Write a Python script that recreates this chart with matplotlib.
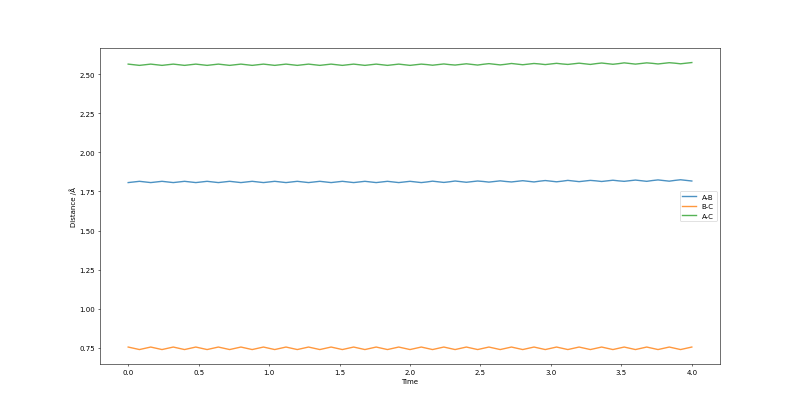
import numpy as np
import matplotlib
matplotlib.use("Agg")
import matplotlib.pyplot as plt

# sampled time grid (101 samples, 0 -> 4)
time = np.linspace(0, 4, 101)

# A-B distance
dist_ab = [
    1.807, 1.811, 1.815, 1.811, 1.807, 1.811, 1.815, 1.811,
    1.807, 1.811, 1.815, 1.811, 1.807, 1.811, 1.815, 1.811,
    1.807, 1.811, 1.815, 1.811, 1.807, 1.811, 1.815, 1.811,
    1.807, 1.811, 1.815, 1.811, 1.807, 1.811, 1.815, 1.811,
    1.807, 1.811, 1.815, 1.811, 1.807, 1.811, 1.815, 1.811,
    1.807, 1.811, 1.815, 1.811, 1.807, 1.811, 1.815, 1.811,
    1.807, 1.811, 1.815, 1.811, 1.807, 1.811, 1.816, 1.812,
    1.808, 1.812, 1.817, 1.813, 1.809, 1.813, 1.817, 1.814,
    1.810, 1.814, 1.818, 1.814, 1.811, 1.815, 1.819, 1.815,
    1.811, 1.816, 1.820, 1.816, 1.812, 1.816, 1.821, 1.817,
    1.813, 1.817, 1.821, 1.818, 1.814, 1.818, 1.822, 1.818,
    1.815, 1.819, 1.823, 1.819, 1.815, 1.820, 1.824, 1.820,
    1.816, 1.821, 1.825, 1.821, 1.817,
]

# B-C distance
dist_bc = [
    0.756, 0.748, 0.740, 0.748, 0.756, 0.748, 0.740, 0.748,
    0.756, 0.748, 0.740, 0.748, 0.756, 0.748, 0.740, 0.748,
    0.756, 0.748, 0.740, 0.748, 0.756, 0.748, 0.740, 0.748,
    0.756, 0.748, 0.740, 0.748, 0.756, 0.748, 0.740, 0.748,
    0.756, 0.748, 0.740, 0.748, 0.756, 0.748, 0.740, 0.748,
    0.756, 0.748, 0.740, 0.748, 0.756, 0.748, 0.740, 0.748,
    0.756, 0.748, 0.740, 0.748, 0.756, 0.748, 0.740, 0.748,
    0.756, 0.748, 0.740, 0.748, 0.756, 0.748, 0.740, 0.748,
    0.756, 0.748, 0.740, 0.748, 0.756, 0.748, 0.740, 0.748,
    0.756, 0.748, 0.740, 0.748, 0.756, 0.748, 0.740, 0.748,
    0.756, 0.748, 0.740, 0.748, 0.756, 0.748, 0.740, 0.748,
    0.756, 0.748, 0.740, 0.748, 0.756, 0.748, 0.740, 0.748,
    0.756, 0.748, 0.740, 0.748, 0.756,
]

# A-C distance
dist_ac = [
    2.564, 2.560, 2.556, 2.560, 2.564, 2.560, 2.556, 2.560,
    2.564, 2.560, 2.556, 2.560, 2.564, 2.560, 2.556, 2.560,
    2.564, 2.560, 2.556, 2.560, 2.564, 2.560, 2.556, 2.560,
    2.564, 2.560, 2.556, 2.560, 2.564, 2.560, 2.556, 2.560,
    2.564, 2.560, 2.556, 2.560, 2.564, 2.560, 2.556, 2.560,
    2.564, 2.560, 2.556, 2.560, 2.564, 2.560, 2.556, 2.560,
    2.564, 2.560, 2.556, 2.560, 2.564, 2.561, 2.557, 2.561,
    2.565, 2.561, 2.558, 2.562, 2.566, 2.562, 2.558, 2.563,
    2.567, 2.563, 2.559, 2.563, 2.568, 2.564, 2.560, 2.564,
    2.568, 2.565, 2.561, 2.565, 2.569, 2.565, 2.562, 2.566,
    2.570, 2.566, 2.562, 2.567, 2.571, 2.567, 2.563, 2.567,
    2.572, 2.568, 2.564, 2.568, 2.572, 2.569, 2.565, 2.569,
    2.573, 2.570, 2.566, 2.570, 2.574,
]

fig = plt.figure(figsize=(16, 8.2), dpi=50)
plt.plot(time, dist_ab, label='A-B', lw=2, alpha=0.8)
plt.plot(time, dist_bc, label='B-C', lw=2, alpha=0.8)
plt.plot(time, dist_ac, label='A-C', lw=2, alpha=0.8)
plt.xlabel('Time')
plt.ylabel('Distance /Å')
plt.legend(loc='center right')
plt.savefig('out.png', dpi=50)
